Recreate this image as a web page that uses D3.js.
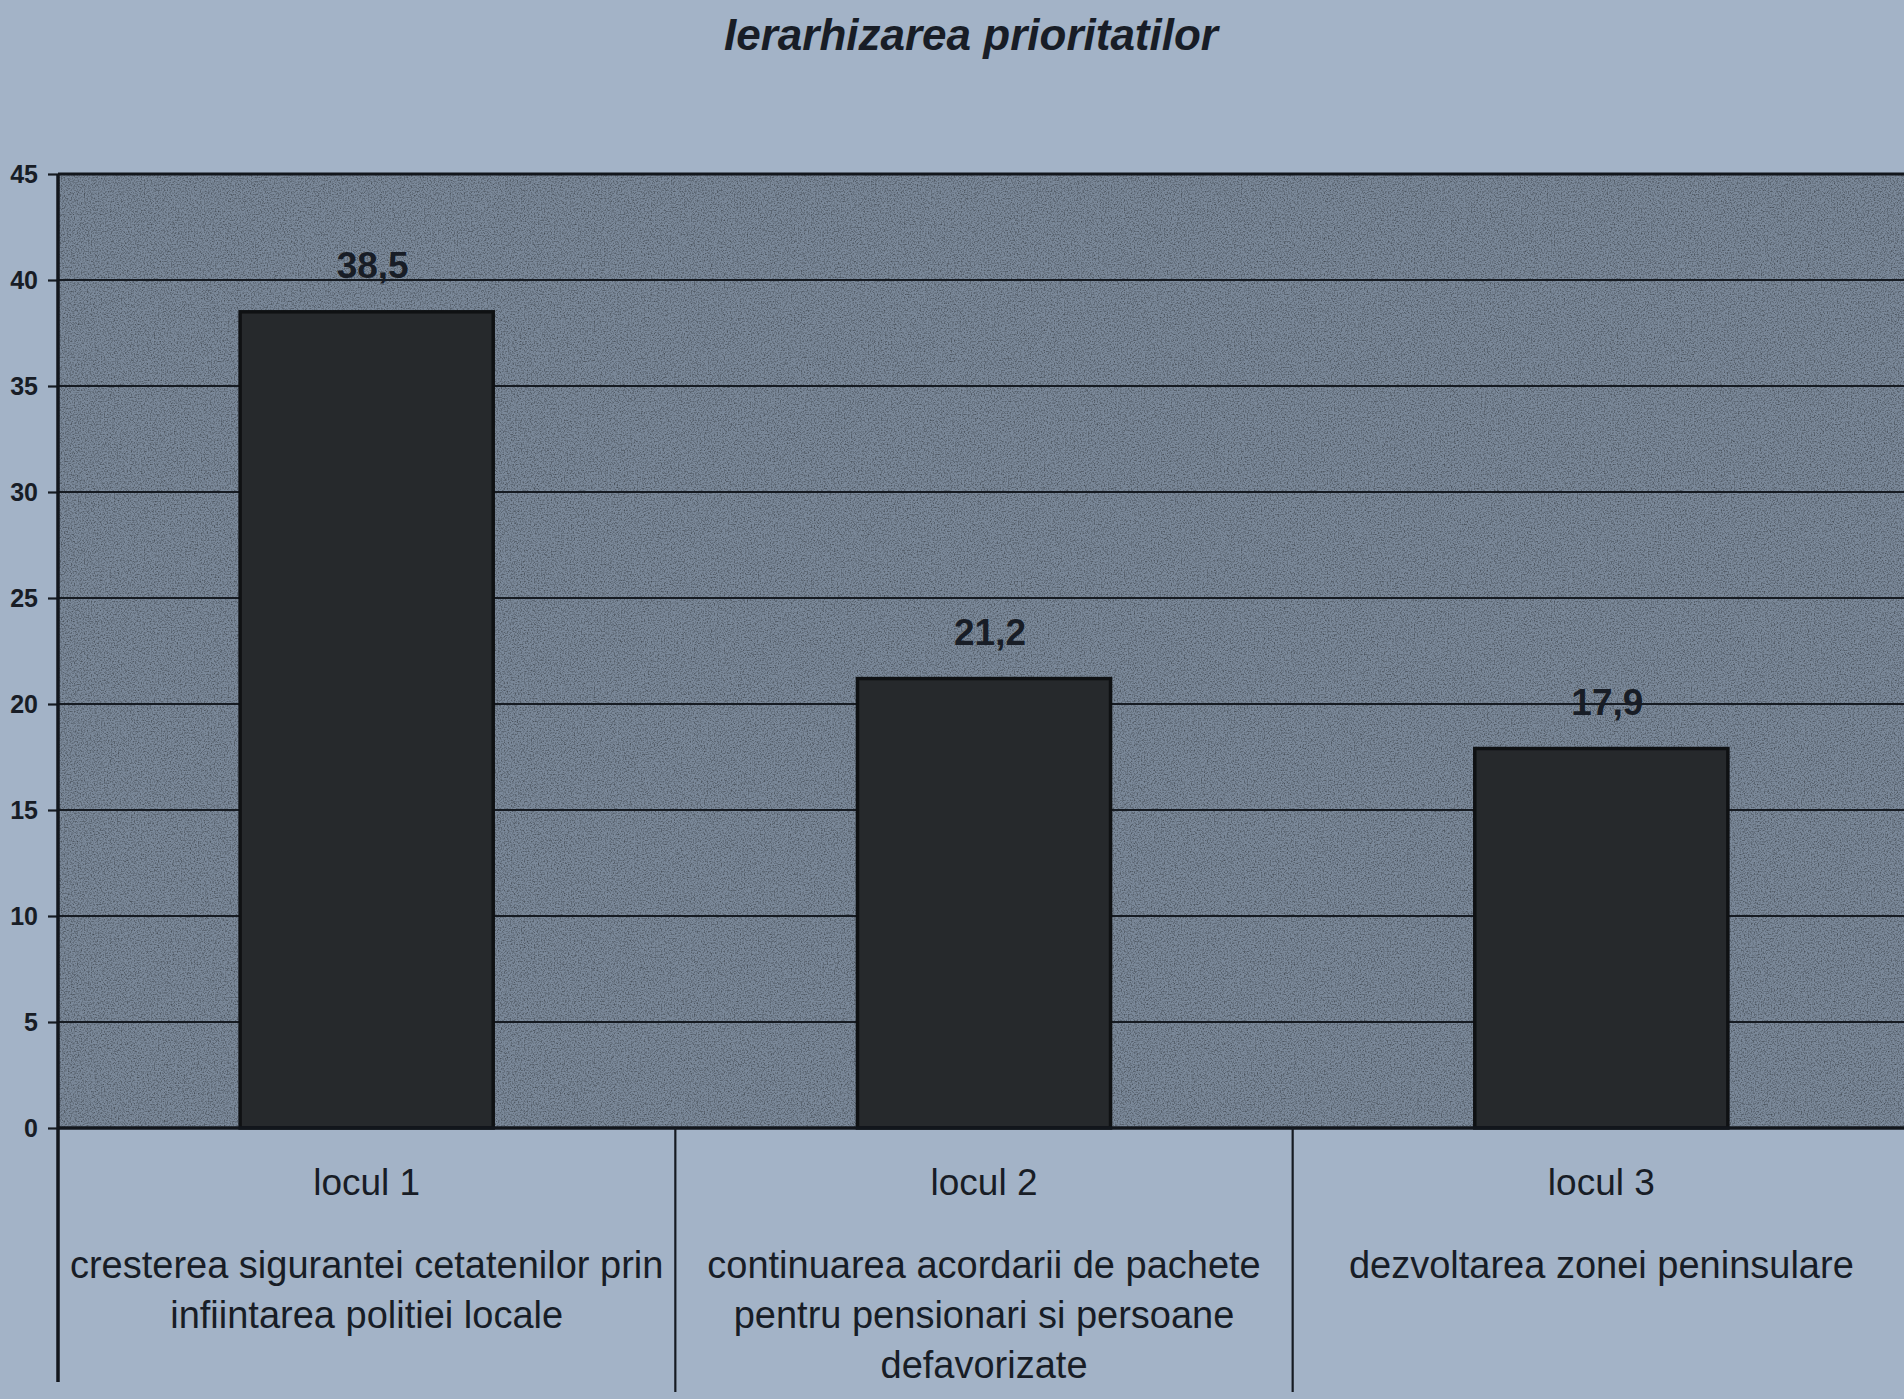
<!DOCTYPE html>
<html>
<head>
<meta charset="utf-8">
<script src="https://cdn.jsdelivr.net/npm/d3@7"></script>
<style>
  html, body { margin: 0; padding: 0; background: #a3b3c7; }
  svg { display: block; }
</style>
</head>
<body>
<svg id="chart" width="1904" height="1399"></svg>
<script>
const title = "Ierarhizarea prioritatilor";
const categories = ["locul 1", "locul 2", "locul 3"];
const descriptions = [
  ["cresterea sigurantei cetatenilor prin", "infiintarea politiei locale"],
  ["continuarea acordarii de pachete", "pentru pensionari si persoane", "defavorizate"],
  ["dezvoltarea zonei peninsulare"]
];
const values = [38.5, 21.2, 17.9];
const valueLabels = ["38,5", "21,2", "17,9"];
const yTicks = [0, 5, 10, 15, 20, 25, 30, 35, 40, 45];

const W = 1904, H = 1399;
const plotLeft = 58, plotRight = 1910, plotTop = 174, zeroY = 1128, tableBottom = 1392;

const svg = d3.select("#chart");
const font = "'Liberation Sans', Arial, sans-serif";
const ink = "#181d26";

svg.append("rect").attr("width", W).attr("height", H).attr("fill", "#a3b3c7");

const defs = svg.append("defs");
const f = defs.append("filter").attr("id", "noise").attr("x", 0).attr("y", 0).attr("width", "100%").attr("height", "100%");
f.append("feTurbulence").attr("type", "fractalNoise").attr("baseFrequency", 0.7).attr("numOctaves", 2).attr("seed", 5).attr("result", "t");
f.append("feColorMatrix").attr("in", "t").attr("type", "matrix")
  .attr("values", "0 0 0 0 0  0 0 0 0 0  0 0 0 0 0  0 0 0 -2.2 1.25").attr("result", "n");
f.append("feComposite").attr("in", "n").attr("in2", "SourceGraphic").attr("operator", "in");

const x = d3.scaleBand().domain(categories).range([plotLeft, plotRight]).paddingInner(0.59).paddingOuter(0.295);
const step = x.step();
const y = d3.scaleLinear().domain([0, 45]).range([zeroY, plotTop]);

// plot area with print speckle
svg.append("rect").attr("x", plotLeft).attr("y", plotTop).attr("width", plotRight - plotLeft).attr("height", zeroY - plotTop)
  .attr("fill", "#7b899a");
svg.append("rect").attr("x", plotLeft).attr("y", plotTop).attr("width", plotRight - plotLeft).attr("height", zeroY - plotTop)
  .attr("fill", "#3c4550").attr("opacity", 0.45).attr("filter", "url(#noise)");

// gridlines
svg.append("g").selectAll("line").data(yTicks.filter(d => d > 0 && d < 45)).join("line")
  .attr("x1", plotLeft).attr("x2", plotRight).attr("y1", d => y(d)).attr("y2", d => y(d))
  .attr("stroke", "#161b22").attr("stroke-width", 2.2);

// bars
svg.append("g").selectAll("rect").data(values).join("rect")
  .attr("x", (d, i) => x(categories[i]))
  .attr("y", d => y(d))
  .attr("width", x.bandwidth())
  .attr("height", d => zeroY - y(d))
  .attr("fill", "#26292c").attr("stroke", "#0f1113").attr("stroke-width", 3.5);

// value labels
svg.append("g").selectAll("text").data(values).join("text")
  .attr("x", (d, i) => x(categories[i]) + x.bandwidth() / 2 + 6)
  .attr("y", d => y(d) - 34)
  .attr("text-anchor", "middle")
  .attr("font-family", font).attr("font-weight", "bold").attr("font-size", 37)
  .attr("fill", ink)
  .text((d, i) => valueLabels[i]);

// y axis
const yAxis = d3.axisLeft(y).tickValues(yTicks).tickSize(10).tickPadding(10).tickFormat(d3.format("d"));
const gy = svg.append("g").attr("transform", `translate(${plotLeft},0)`).call(yAxis);
gy.select(".domain").remove();
gy.selectAll(".tick line").attr("stroke", "#161b22").attr("stroke-width", 2.2);
gy.selectAll(".tick text").attr("font-family", font).attr("font-weight", "bold").attr("font-size", 25).attr("fill", ink);

// frame lines
svg.append("line").attr("x1", plotLeft).attr("x2", plotLeft).attr("y1", plotTop).attr("y2", tableBottom - 10)
  .attr("stroke", "#12161c").attr("stroke-width", 3.5);
svg.append("line").attr("x1", plotLeft).attr("x2", plotRight).attr("y1", zeroY).attr("y2", zeroY)
  .attr("stroke", "#12161c").attr("stroke-width", 3.5);
svg.append("line").attr("x1", plotLeft).attr("x2", plotRight).attr("y1", plotTop).attr("y2", plotTop)
  .attr("stroke", "#12161c").attr("stroke-width", 3);

// category dividers
svg.append("g").selectAll("line").data(categories.slice(1)).join("line")
  .attr("x1", d => x(d) - (step - x.bandwidth()) / 2)
  .attr("x2", d => x(d) - (step - x.bandwidth()) / 2)
  .attr("y1", zeroY).attr("y2", tableBottom)
  .attr("stroke", "#161b22").attr("stroke-width", 2.2);

// category labels
const cat = svg.append("g").selectAll("g").data(categories).join("g")
  .attr("transform", d => `translate(${x(d) + x.bandwidth() / 2},0)`);
cat.append("text").attr("y", 1195).attr("text-anchor", "middle")
  .attr("font-family", font).attr("font-size", 37).attr("fill", ink)
  .text(d => d);
cat.each(function(d, i) {
  d3.select(this).selectAll("text.desc").data(descriptions[i]).join("text")
    .attr("class", "desc")
    .attr("y", (t, j) => 1278 + j * 50)
    .attr("text-anchor", "middle")
    .attr("font-family", font).attr("font-size", 38).attr("fill", ink)
    .text(t => t);
});

// title
svg.append("text").attr("x", 971).attr("y", 50).attr("text-anchor", "middle")
  .attr("font-family", font).attr("font-weight", "bold").attr("font-style", "italic").attr("font-size", 44)
  .attr("fill", ink).text(title);
</script>
</body>
</html>
